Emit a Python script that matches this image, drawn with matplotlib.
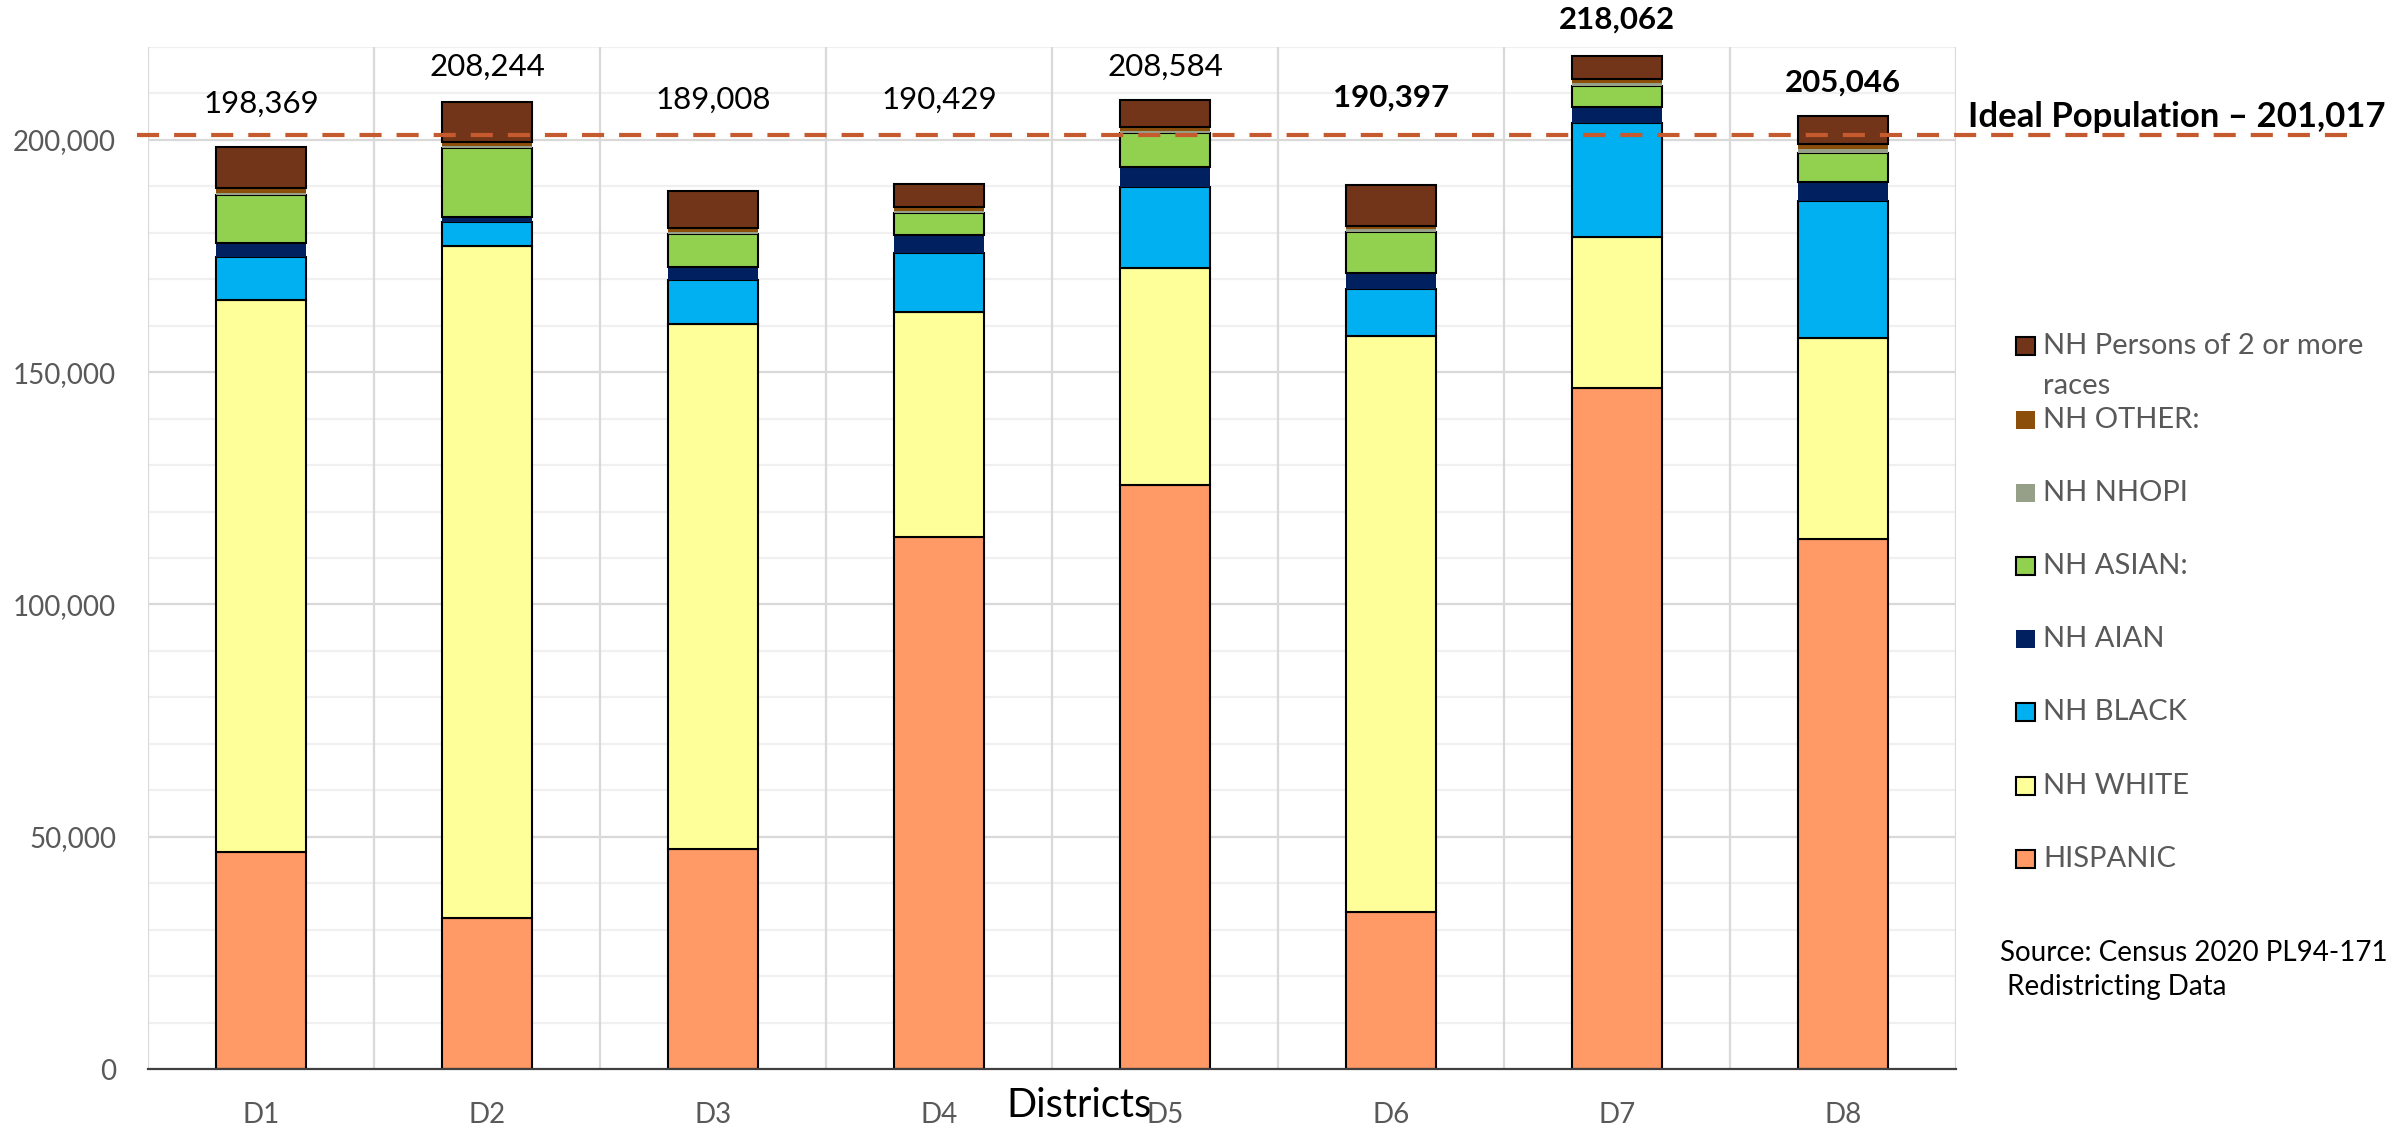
import matplotlib
matplotlib.use('Agg')
import matplotlib.pyplot as plt
from matplotlib.patches import Rectangle
from matplotlib.ticker import MultipleLocator, FuncFormatter

# ---------------- data ----------------
districts = ['D1', 'D2', 'D3', 'D4', 'D5', 'D6', 'D7', 'D8']
hispanic = [46650, 32510, 47430, 114470, 125730, 33860, 146550, 114100]
nh_white = [118900, 144670, 112960, 48560, 46780, 123940, 32630, 43340]
nh_black = [9320, 5100, 9470, 12580, 17440, 10060, 24540, 29430]
nh_aian = [2890, 1210, 2860, 3940, 4300, 3570, 3450, 4150]
nh_asian = [10400, 14850, 7040, 4800, 7190, 8830, 4460, 6120]
nh_nhopi = [370, 430, 370, 430, 500, 510, 710, 920]
nh_other = [1070, 860, 860, 730, 790, 780, 730, 1010]
nh_multi = [8769, 8614, 8018, 4919, 5854, 8847, 4992, 5976]
totals = [198369, 208244, 189008, 190429, 208584, 190397, 218062, 205046]
ideal_population = 201017

series_names = ['HISPANIC', 'NH WHITE', 'NH BLACK', 'NH AIAN', 'NH ASIAN:',
                'NH NHOPI', 'NH OTHER:', 'NH Persons of 2 or more\nraces']
series_values = [hispanic, nh_white, nh_black, nh_aian, nh_asian,
                 nh_nhopi, nh_other, nh_multi]

# ---------------- styles ----------------
colors = ['#FF9966', '#FFFF99', '#00B0F0', '#002060', '#92D050',
          '#969F88', '#8C4E0B', '#733519']
edged = [True, True, True, False, True, False, False, True]
label_y = [207750, 215720, 208610, 208610, 215720, 209040, 225830, 212270]
label_bold = [False, False, False, False, False, True, True, True]

FONT = ['Lato', 'DejaVu Sans']
plt.rcParams['font.family'] = FONT

W, H = 2408, 1127
fig = plt.figure(figsize=(W / 100, H / 100), dpi=100)
fx = lambda px: px / W
fy = lambda py: 1 - py / H

ax = fig.add_axes([fx(148), fy(1069), fx(1956) - fx(148), fy(47) - fy(1069)])
ax.set_xlim(-0.5, 7.5)
ax.set_ylim(0, 220000)

# gridlines
for v in range(10000, 220001, 10000):
    if v % 50000 == 0:
        ax.axhline(v, color='#D9D9D9', lw=1.6, zorder=0)
    else:
        ax.axhline(v, color='#F0F0F0', lw=1.6, zorder=0)
for i in range(9):
    ax.axvline(i - 0.5, color='#D9D9D9', lw=1.6, zorder=0)

# stacked bars
x = list(range(len(districts)))
bottom = [0] * len(districts)
for name, vals, col, e in zip(series_names, series_values, colors, edged):
    ax.bar(x, vals, width=0.40, bottom=bottom, color=col,
           edgecolor='black' if e else col, linewidth=1.5 if e else 0,
           zorder=3)
    bottom = [b + v for b, v in zip(bottom, vals)]

# total labels
for i, (t, ly, b) in enumerate(zip(totals, label_y, label_bold)):
    ax.text(i, ly, f"{t:,}", ha='center', va='center', fontsize=22.5,
            fontweight='bold' if b else 'normal', color='black', zorder=5)

# ideal population line
ax.plot([-0.55, 9.27], [ideal_population] * 2, color='#C55A2E', lw=3.0,
        linestyle=(0, (5.3, 3.6)), clip_on=False, zorder=4)
fig.text(fx(1968), fy(117), f"Ideal Population \u2013 {ideal_population:,}",
         ha='left', va='center', fontsize=25, fontweight='bold', color='black')

# axes styling
for s in ['top', 'right', 'left']:
    ax.spines[s].set_visible(False)
ax.spines['bottom'].set_color('#404040')
ax.spines['bottom'].set_linewidth(1.6)
ax.spines['bottom'].set_zorder(6)
ax.yaxis.set_major_locator(MultipleLocator(50000))
ax.yaxis.set_major_formatter(FuncFormatter(lambda v, p: f"{int(v):,}"))
ax.set_xticks(x)
ax.set_xticklabels(districts)
ax.tick_params(axis='both', length=0, labelsize=20, colors='#595959')
ax.tick_params(axis='y', pad=23)
ax.tick_params(axis='x', pad=24)

fig.text(fx(1079), fy(1117), 'Districts', ha='center', va='baseline',
         fontsize=28.5, color='black')

# legend (manual)
legend_rows = [346, 420, 493, 566, 639, 712, 786, 859]
for row, name, col, e in zip(legend_rows, series_names[::-1], colors[::-1], edged[::-1]):
    fig.patches.append(Rectangle((fx(2016), fy(row + 9)), fx(19), 18 / H,
                                 transform=fig.transFigure, facecolor=col,
                                 edgecolor='black' if e else col,
                                 linewidth=1.5 if e else 0))
    lines = name.split('\n')
    for k, ln in enumerate(lines):
        fig.text(fx(2043), fy(row + 40 * k), ln, ha='left', va='center',
                 fontsize=21, color='#595959')

fig.text(fx(2000), fy(953), 'Source: Census 2020 PL94-171', ha='left',
         va='center', fontsize=20, color='black')
fig.text(fx(2000), fy(987), ' Redistricting Data', ha='left',
         va='center', fontsize=20, color='black')

fig.savefig('out.png', dpi=100)
